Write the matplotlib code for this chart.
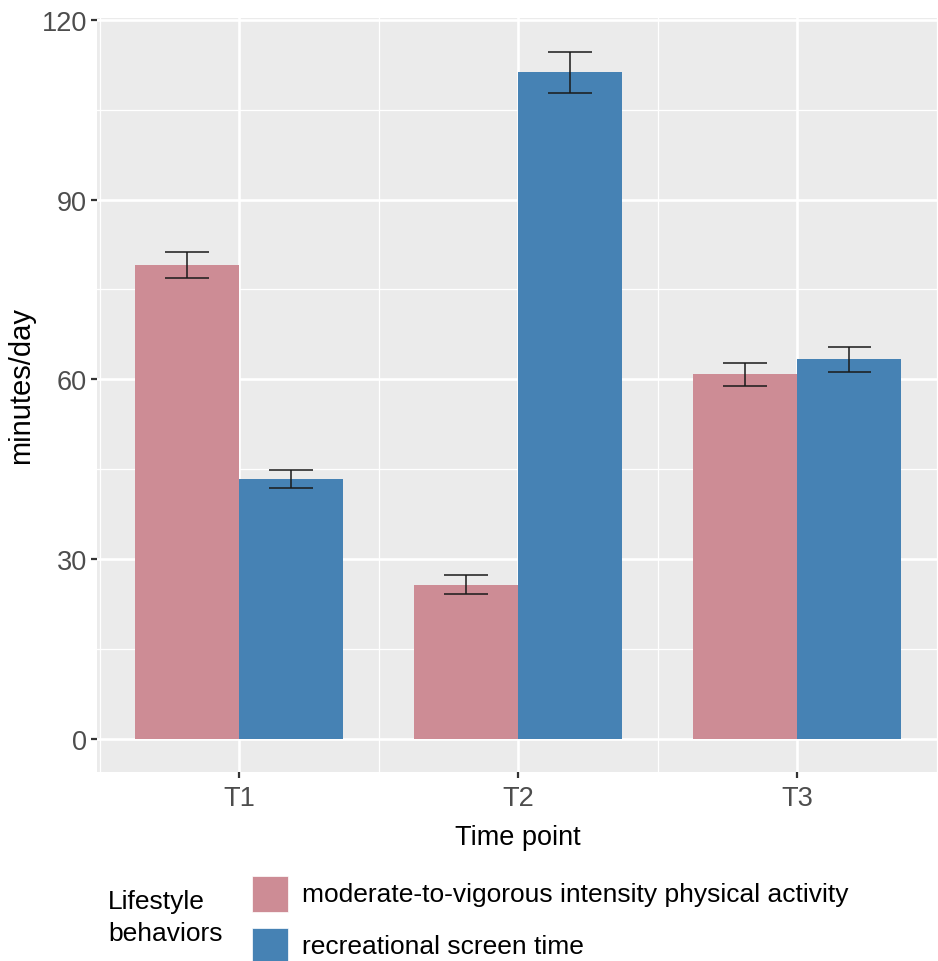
import matplotlib
matplotlib.use("Agg")
import matplotlib.pyplot as plt
from matplotlib.patches import Rectangle
import numpy as np

plt.rcParams['font.family'] = ['Liberation Sans', 'DejaVu Sans']

time_points = ["T1", "T2", "T3"]
series_names = ["moderate-to-vigorous intensity physical activity", "recreational screen time"]
series_colors = ["#CD8C95", "#4682B4"]
mvpa_mean = [79.1, 25.75, 60.9]
mvpa_low = [77.0, 24.2, 58.95]
mvpa_high = [81.3, 27.4, 62.75]
screen_mean = [43.4, 111.3, 63.4]
screen_low = [41.9, 107.8, 61.3]
screen_high = [44.9, 114.7, 65.45]
yticks = [0, 30, 60, 90, 120]

W, H = 938, 962
fig = plt.figure(figsize=(W / 100, H / 100), dpi=100)
ax = fig.add_axes([97 / W, (H - 773) / H, (938 - 97) / W, (773 - 19) / H])
ax.set_facecolor("#EBEBEB")
for s in ax.spines.values():
    s.set_visible(False)

x = np.arange(1, len(time_points) + 1)
bw = 0.373
cap = 0.155
means = [mvpa_mean, screen_mean]
lows = [mvpa_low, screen_low]
highs = [mvpa_high, screen_high]
offsets = [-bw / 2, bw / 2]
for i in range(2):
    xs = x + offsets[i]
    ax.bar(xs, means[i], width=bw, color=series_colors[i], zorder=3)
    for xi, lo, hi in zip(xs, lows[i], highs[i]):
        ax.plot([xi, xi], [lo, hi], color="#1a1a1a", lw=1.1, zorder=4, solid_capstyle="butt")
        ax.plot([xi - cap / 2, xi + cap / 2], [lo, lo], color="#1a1a1a", lw=1.1, zorder=4, solid_capstyle="butt")
        ax.plot([xi - cap / 2, xi + cap / 2], [hi, hi], color="#1a1a1a", lw=1.1, zorder=4, solid_capstyle="butt")

ax.set_xlim(0.491, 3.505)
ax.set_ylim(-5.51, 120.3)
ax.set_xticks(x)
ax.set_xticklabels(time_points)
ax.set_xticks([0.5, 1.5, 2.5, 3.5], minor=True)
ax.set_yticks(yticks)
ax.set_yticks([15, 45, 75, 105], minor=True)
ax.grid(which="major", color="white", lw=1.9, zorder=1)
ax.grid(which="minor", color="white", lw=0.9, zorder=1)
ax.set_axisbelow(True)
ax.tick_params(which="major", length=4.3, width=1.6, color="#333333",
               labelsize=19.5, labelcolor="#4D4D4D", pad=3)
ax.tick_params(axis="x", which="major", pad=5)
ax.tick_params(which="minor", length=0)

fig.text(518 / W, 1 - 838 / H, "Time point", fontsize=19.5, ha="center", va="center", color="black")
fig.text(21.5 / W, 1 - 386 / H, "minutes/day", fontsize=21, ha="center", va="center", rotation=90, color="black")

# legend
fig.text(108 / W, 1 - 918 / H, "Lifestyle\nbehaviors", fontsize=19, ha="left", va="center",
         linespacing=1.4, color="black")
key_left, key_w = 251.7, 36
key_tops = [877, 929]
for name, col, top in zip(series_names, series_colors, key_tops):
    fig.add_artist(Rectangle((key_left / W, 1 - (top + key_w) / H), key_w / W, key_w / H,
                             transform=fig.transFigure, facecolor=col, edgecolor="white", lw=0.5))
    fig.text(302 / W, 1 - (top + key_w / 2) / H, name, fontsize=19, ha="left", va="center", color="black")

fig.savefig("out.png", dpi=100)
